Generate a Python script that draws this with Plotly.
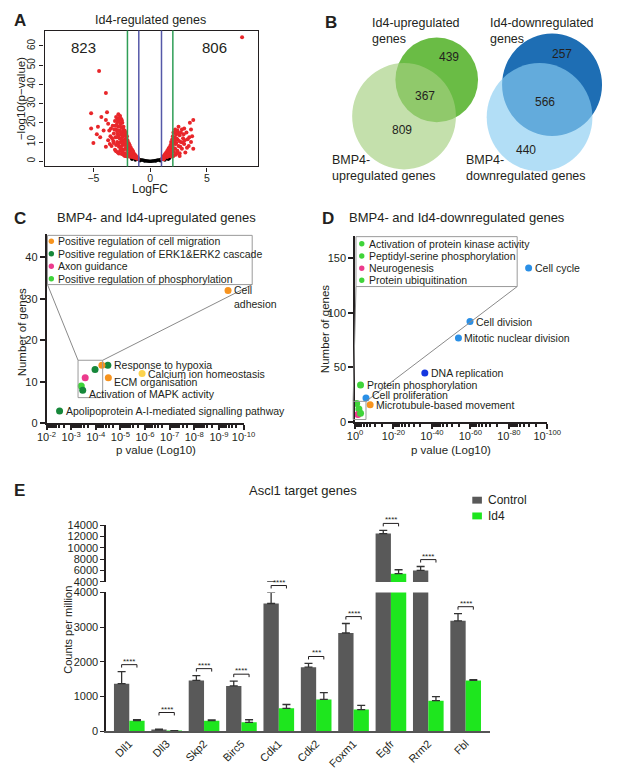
import math
import plotly.graph_objects as go

W, H = 617, 770
FONT = "Liberation Sans, Arial, sans-serif"
INK = "#231f20"

# ---------------- A: volcano plot (Id4 vs control) ----------------
a_sig = [  # (logFC, -log10 p) of significant genes
    (-1.05, 1.2), (-1.1, 2.0), (-1.2, 1.6), (-1.25, 2.8), (-1.3, 2.1), (-1.35, 3.5), (-1.4, 1.8),
    (-1.45, 4.2), (-1.5, 2.6), (-1.5, 5.0), (-1.55, 3.4), (-1.6, 6.0), (-1.6, 2.2), (-1.65, 4.5),
    (-1.7, 7.0), (-1.7, 3.0), (-1.75, 5.5), (-1.8, 8.2), (-1.8, 2.4), (-1.85, 6.5), (-1.9, 4.0),
    (-1.9, 9.5), (-1.95, 7.5), (-2.0, 11.0), (-2.0, 3.2), (-2.0, 5.8), (-2.05, 13.0), (-2.1, 9.0),
    (-2.1, 2.6), (-2.15, 14.5), (-2.15, 6.8), (-2.2, 11.5), (-2.2, 4.2), (-2.25, 16.0), (-2.25, 8.5),
    (-2.3, 13.5), (-2.3, 3.0), (-2.35, 18.0), (-2.35, 10.5), (-2.4, 6.0), (-2.4, 15.5), (-2.45, 20.0),
    (-2.45, 12.5), (-2.5, 8.0), (-2.5, 17.5), (-2.5, 3.8), (-2.55, 22.0), (-2.55, 14.0), (-2.6, 10.0),
    (-2.6, 19.5), (-2.65, 5.5), (-2.65, 23.5), (-2.7, 16.0), (-2.7, 12.0), (-2.75, 21.0), (-2.75, 7.5),
    (-2.8, 24.5), (-2.8, 18.0), (-2.85, 14.0), (-2.85, 4.5), (-2.9, 22.0), (-2.9, 10.0), (-2.95, 19.0),
    (-3.0, 16.5), (-3.0, 8.5), (-3.05, 12.5), (-3.1, 21.0), (-3.1, 6.0), (-3.2, 14.5), (-3.25, 10.5),
    (-3.3, 18.5), (-3.4, 8.0), (-3.5, 13.0), (-3.6, 16.0), (-3.7, 11.0),
    (-1.15, 1.4), (-1.3, 2.9), (-1.45, 3.1), (-1.55, 5.6), (-1.65, 3.8), (-1.75, 4.1), (-1.85, 8.9),
    (-1.95, 3.6), (-2.0, 9.8), (-2.05, 7.2), (-2.1, 12.2), (-2.15, 3.5), (-2.2, 15.2), (-2.25, 10.2),
    (-2.3, 6.1), (-2.35, 14.2), (-2.4, 17.2), (-2.45, 9.2), (-2.5, 21.3), (-2.55, 11.5), (-2.6, 15.2),
    (-2.6, 7.0), (-2.65, 18.2), (-2.7, 22.5), (-2.75, 13.5), (-2.8, 9.2), (-2.85, 20.5), (-2.9, 15.5),
    (-2.95, 12.5), (-3.0, 23.0), (-3.0, 5.2), (-3.05, 18.5), (-3.15, 16.5), (-3.2, 9.5), (-3.35, 12.0),
    (-3.45, 17.0), (-3.55, 9.0), (-2.45, 5.0), (-2.75, 4.0), (-2.2, 2.8),
    (-4.5, 47.0), (-3.9, 35.5), (-3.8, 25.5), (-5.2, 25.0), (-4.3, 23.0), (-3.9, 21.5), (-5.2, 17.0),
    (-4.6, 18.0), (-5.0, 9.5), (-4.1, 16.0), (-3.7, 19.5), (-4.4, 12.5), (-3.9, 7.5), (-4.7, 14.0),
    (1.05, 1.2), (1.1, 2.0), (1.15, 1.5), (1.2, 2.8), (1.25, 1.9), (1.3, 3.6), (1.35, 2.4), (1.4, 4.4),
    (1.45, 3.0), (1.5, 5.3), (1.5, 2.2), (1.55, 4.0), (1.6, 6.2), (1.6, 2.8), (1.65, 5.0), (1.7, 7.3),
    (1.7, 3.5), (1.75, 6.0), (1.8, 8.5), (1.8, 2.6), (1.85, 4.6), (1.85, 10.0), (1.9, 7.0), (1.9, 3.2),
    (1.95, 11.5), (1.95, 5.5), (2.0, 13.0), (2.0, 8.5), (2.05, 2.8), (2.05, 15.0), (2.1, 10.0),
    (2.1, 4.8), (2.15, 12.5), (2.2, 6.5), (2.2, 16.5), (2.25, 3.4), (2.3, 9.5), (2.3, 14.0), (2.4, 5.5),
    (2.4, 11.5), (2.5, 8.0), (2.5, 18.0), (2.6, 13.5), (2.6, 4.2), (2.7, 10.0), (2.8, 16.5), (2.8, 6.5),
    (2.9, 12.0), (3.0, 9.0), (3.0, 17.0), (3.1, 4.5), (3.2, 15.0), (3.3, 11.5), (3.4, 8.0), (3.5, 20.0),
    (3.6, 10.0), (3.7, 13.0), (3.8, 21.5), (3.8, 6.5), (3.6, 16.5),
    (1.2, 1.1), (1.35, 3.2), (1.55, 3.0), (1.65, 6.7), (1.75, 4.4), (1.9, 8.7), (1.95, 2.5), (2.05, 11.6),
    (2.1, 6.8), (2.15, 14.8), (2.25, 9.0), (2.3, 12.0), (2.35, 4.0), (2.45, 14.8), (2.55, 10.5),
    (2.65, 7.5), (2.7, 15.0), (2.85, 9.8), (2.95, 14.0), (3.05, 11.0), (3.25, 7.0), (3.45, 12.5),
    (2.4, 16.0), (2.2, 11.0), (2.6, 2.8), (8.1, 64.5),
]
a_ns = [  # non-significant genes along the bottom
    (-1.6, 1.6), (-1.5, 1.5), (-1.4, 1.4), (-1.3, 1.2), (-1.2, 1.3), (-1.1, 1.0), (-1.0, 0.9),
    (-0.9, 0.8), (-0.8, 0.7), (-0.7, 0.6), (-0.6, 0.5), (-0.5, 0.4), (-0.4, 0.3), (-0.3, 0.2),
    (-0.2, 0.15), (-0.1, 0.05), (0.0, 0.0), (0.1, 0.05), (0.2, 0.15), (0.3, 0.2), (0.4, 0.3),
    (0.5, 0.4), (0.6, 0.5), (0.7, 0.6), (0.8, 0.7), (0.9, 0.8), (1.0, 0.9), (1.1, 1.0), (1.2, 1.2),
    (1.3, 1.3), (1.4, 1.4), (1.5, 1.5), (1.6, 1.5), (1.7, 1.6), (-1.3, 0.6), (-0.9, 0.3), (0.9, 0.3),
    (1.3, 0.6), (-0.5, 0.1), (0.5, 0.1), (1.6, 1.0), (-1.6, 1.0),
]
a_n_down, a_n_up = 823, 806
a_cut_inner, a_cut_outer = 1, 2

# ---------------- B: Venn counts ----------------
up_id4_only, up_both, up_bmp4_only = 439, 367, 809
dn_id4_only, dn_both, dn_bmp4_only = 257, 566, 440

# ---------------- C: GO terms, up-regulated ----------------
c_terms = ["Cell adhesion", "Response to hypoxia", "Positive regulation of cell migration",
           "Positive regulation of ERK1&ERK2 cascade", "Axon guidance", "ECM organisation",
           "Calcium ion homeostasis", "Positive regulation of phosphorylation",
           "Activation of MAPK activity", "Apolipoprotein A-I-mediated signalling pathway"]
c_nlogp = [9.37, 4.49, 4.25, 3.97, 3.57, 4.51, 5.88, 3.41, 3.47, 2.53]
c_genes = [32, 14, 14, 13, 11, 11, 12, 9, 8, 3]
c_inset = ["Positive regulation of cell migration", "Positive regulation of ERK1&ERK2 cascade",
           "Axon guidance", "Positive regulation of phosphorylation"]

# ---------------- D: GO terms, down-regulated ----------------
d_terms = ["Cell cycle", "Cell division", "Mitotic nuclear division", "DNA replication",
           "Protein phosphorylation", "Cell proliferation", "Microtubule-based movement",
           "Activation of protein kinase activity", "Peptidyl-serine phosphorylation",
           "Neurogenesis", "Protein ubiquitination"]
d_nlogp = [90.3, 59.8, 53.8, 36.3, 2.85, 5.7, 7.85, 0.85, 2.0, 1.5, 2.85]
d_genes = [141, 92, 77, 45, 34, 22, 16, 17, 12, 7, 8]
d_inset = ["Activation of protein kinase activity", "Peptidyl-serine phosphorylation",
           "Neurogenesis", "Protein ubiquitination"]

# ---------------- E: Ascl1 targets ----------------
e_genes = ["Dll1", "Dll3", "Skp2", "Birc5", "Cdk1", "Cdk2", "Foxm1", "Egfr", "Rrm2", "Fbl"]
e_ctrl = [1370, 40, 1465, 1305, 3680, 1845, 2830, 12500, 6020, 3180]
e_ctrl_err = [350, 20, 140, 140, 320, 110, 275, 580, 690, 210]
e_id4 = [305, 10, 305, 255, 660, 915, 625, 5450, 880, 1465]
e_id4_err = [30, 5, 20, 75, 110, 200, 120, 690, 115, 20]
e_sig = ["****", "****", "****", "****", "****", "***", "****", "****", "****", "****"]

# colours
ORANGE, DKGREEN, PINK, LTGREEN, YELLOW = "#f7931e", "#16873a", "#ec3b8d", "#3fd43a", "#fcd34d"
BLUE, DKBLUE = "#2a8fe6", "#1537e0"
GREY_BAR, GREEN_BAR = "#595959", "#1ee61e"
c_colors = [ORANGE, DKGREEN, ORANGE, DKGREEN, PINK, ORANGE, YELLOW, LTGREEN, DKGREEN, DKGREEN]
d_colors = [BLUE, BLUE, BLUE, DKBLUE, LTGREEN, BLUE, ORANGE, LTGREEN, LTGREEN, PINK, LTGREEN]


def fx(p):
    return p / W


def fy(p):
    return 1 - p / H


def lin(v, rng, span):
    return span[0] + (v - rng[0]) / (rng[1] - rng[0]) * (span[1] - span[0])


def note(text, x, y, size=11, xanchor="center", yanchor="middle", angle=0, bold=False, **kw):
    fig.add_annotation(text=f"<b>{text}</b>" if bold else text, x=fx(x), y=fy(y),
                       xref="paper", yref="paper", showarrow=False, textangle=angle,
                       xanchor=xanchor, yanchor=yanchor,
                       font=dict(size=size, family=FONT, color=INK), **kw)


def line(x0, y0, x1, y1, color="#8a8a8a", width=1):
    fig.add_shape(type="line", x0=fx(x0), y0=fy(y0), x1=fx(x1), y1=fy(y1),
                  xref="paper", yref="paper", line=dict(color=color, width=width))


fig = go.Figure()

# geometry (pixels)
A_X, A_Y = (36, 258), (163, 25)
A_XR, A_YR = [-9.3, 9.5], [-2.7, 68]
C_X, C_Y = (38, 243), (424, 232)
C_XR, C_YR = [2, 10], [0, 45.5]
D_X, D_Y = (359, 559), (422.7, 234)
D_XR, D_YR = [0, 100], [0, 170]
E_X, E_LO, E_HI = (100, 499), (736.7, 595.7), (585, 527.3)
E_XR = [-0.62, 9.64]

axis_common = dict(showgrid=False, zeroline=False, showline=True, linecolor=INK,
                   ticks="outside", tickcolor=INK, tickfont=dict(size=11, family=FONT, color=INK))

# ---- A ----
fig.add_trace(go.Scatter(x=[p[0] for p in a_ns], y=[p[1] for p in a_ns], mode="markers",
                         marker=dict(color="black", size=3.5), xaxis="x", yaxis="y", showlegend=False))
fig.add_trace(go.Scatter(x=[p[0] for p in a_sig], y=[p[1] for p in a_sig], mode="markers",
                         marker=dict(color="#e8262a", size=4), xaxis="x", yaxis="y", showlegend=False))
for v, col in [(-a_cut_outer, "#2f9e57"), (-a_cut_inner, "#5558a8"),
               (a_cut_inner, "#5558a8"), (a_cut_outer, "#2f9e57")]:
    fig.add_shape(type="line", x0=v, x1=v, y0=0, y1=1, xref="x", yref="y domain",
                  line=dict(color=col, width=1.5))
fig.add_annotation(x=-5.85, y=59.3, xref="x", yref="y", text=str(a_n_down), showarrow=False,
                   font=dict(size=15, family=FONT, color=INK))
fig.add_annotation(x=5.7, y=59.3, xref="x", yref="y", text=str(a_n_up), showarrow=False,
                   font=dict(size=15, family=FONT, color=INK))

# ---- C ----
fig.add_trace(go.Scatter(x=c_nlogp, y=c_genes, mode="markers", cliponaxis=False,
                         marker=dict(color=c_colors, size=7), xaxis="x2", yaxis="y2", showlegend=False))
# ---- D ----
fig.add_trace(go.Scatter(x=d_nlogp, y=d_genes, mode="markers", cliponaxis=False,
                         marker=dict(color=d_colors, size=7), xaxis="x3", yaxis="y3", showlegend=False))

wrap = {"Cell adhesion": "Cell<br>adhesion"}
shift = {"Cell adhesion": -7, "ECM organisation": -4, "Activation of MAPK activity": -4,
         "Cell proliferation": 3}
for terms, xs, ys, inset, ax in [(c_terms, c_nlogp, c_genes, c_inset, "2"),
                                 (d_terms, d_nlogp, d_genes, d_inset, "3")]:
    for t, x, y in zip(terms, xs, ys):
        if t in inset:
            continue
        fig.add_annotation(x=x, y=y, xref="x" + ax, yref="y" + ax, text=wrap.get(t, t),
                           showarrow=False, xanchor="left", align="left", xshift=4,
                           yshift=shift.get(t, 0), font=dict(size=10.5, family=FONT, color=INK))


def callout(terms, colors, inset, box, rows, zoom, xr, yr, xspan, yspan):
    x0, y0, x1, y1 = box
    fig.add_shape(type="rect", x0=fx(x0), y0=fy(y0), x1=fx(x1), y1=fy(y1), xref="paper",
                  yref="paper", line=dict(color="#9a9a9a", width=1), fillcolor="white")
    dot_x, text_x, row0, step = rows
    k = 0
    for t, c in zip(terms, colors):
        if t not in inset:
            continue
        yy = row0 + k * step
        fig.add_shape(type="circle", x0=fx(dot_x - 2.8), x1=fx(dot_x + 2.8), y0=fy(yy - 2.8),
                      y1=fy(yy + 2.8), xref="paper", yref="paper", fillcolor=c, line_width=0)
        note(t, text_x, yy, size=10.5, xanchor="left")
        k += 1
    zx0, zx1 = lin(zoom[0], xr, xspan), lin(zoom[1], xr, xspan)
    zy0, zy1 = lin(zoom[2], yr, yspan), lin(zoom[3], yr, yspan)
    fig.add_shape(type="rect", x0=fx(zx0), x1=fx(zx1), y0=fy(zy0), y1=fy(zy1), xref="paper",
                  yref="paper", line=dict(color="#9a9a9a", width=1))
    line(x0, y1, zx0, zy1)
    line(x1, y1, zx1, zy1)


callout(c_terms, c_colors, c_inset, (39, 233, 252, 283), (43, 48, 239, 12.7),
        (3.28, 4.28, 6.2, 15.2), C_XR, C_YR, C_X, C_Y)
callout(d_terms, d_colors, d_inset, (360, 234.3, 527.7, 285), (366, 371, 241.5, 12.4),
        (-1, 5.7, 2.4, 19), D_XR, D_YR, D_X, D_Y)

# ---- E ----
for ax, ya in [("x4", "y4"), ("x5", "y5")]:
    fig.add_trace(go.Bar(x=e_genes, y=e_ctrl, name="Control", marker=dict(color=GREY_BAR, line_width=0),
                         error_y=dict(type="data", symmetric=False, array=e_ctrl_err,
                                      arrayminus=[0 for _ in e_ctrl_err], color="#333333",
                                      thickness=1.3, width=4),
                         xaxis=ax, yaxis=ya, showlegend=False))
    fig.add_trace(go.Bar(x=e_genes, y=e_id4, name="Id4", marker=dict(color=GREEN_BAR, line_width=0),
                         error_y=dict(type="data", symmetric=False, array=e_id4_err,
                                      arrayminus=[0 for _ in e_id4_err], color="#333333",
                                      thickness=1.3, width=4),
                         xaxis=ax, yaxis=ya, showlegend=False))


def e_py(v):
    if v <= 4000:
        return lin(v, [0, 4000], E_LO)
    return lin(v, [4000, 14000], E_HI)


for i, s in enumerate(e_sig):
    top = max(e_ctrl[i] + e_ctrl_err[i], e_id4[i] + e_id4_err[i])
    yb = min(e_py(top) - 7, E_LO[0] - 19)
    xl, xr = lin(i - 0.205, E_XR, E_X), lin(i + 0.205, E_XR, E_X)
    fig.add_shape(type="path", xref="paper", yref="paper", line=dict(color=INK, width=1),
                  path=f"M {fx(xl)},{fy(yb + 3)} L {fx(xl)},{fy(yb)} L {fx(xr)},{fy(yb)} L {fx(xr)},{fy(yb + 3)}")
    note(s, (xl + xr) / 2, yb, size=8, yanchor="bottom", yshift=-3)

# legend for E
for k, (name, col) in enumerate([("Control", GREY_BAR), ("Id4", GREEN_BAR)]):
    yy = 502 + 16 * k
    fig.add_shape(type="rect", x0=fx(481), x1=fx(491), y0=fy(yy + 3.5), y1=fy(yy - 3.5),
                  xref="paper", yref="paper", fillcolor=col, line_width=0)
    note(name, 495, yy, size=12, xanchor="left")

# ---- text ----
note("A", 10, 15, size=17, bold=True)
note("B", 334, 17, size=17, bold=True)
note("C", 10, 216, size=17, bold=True)
note("D", 331, 216, size=17, bold=True)
note("E", 10, 492, size=17, bold=True)
note("Id4-regulated genes", 146, 14, size=12.5)
note("−log10(p−value)", 11, 94, size=11.5, angle=-90)
note("LogFC", 146, 186, size=12)
note("Id4-upregulated<br>genes", 375, 25, size=12.5, xanchor="left", align="left")
note("Id4-downregulated<br>genes", 497, 25, size=12.5, xanchor="left", align="left")
note("BMP4-<br>upregulated genes", 333, 165, size=12.5, xanchor="left", align="left")
note("BMP4-<br>downregulated genes", 472, 165, size=12.5, xanchor="left", align="left")
note("BMP4- and Id4-upregulated genes", 152, 215, size=13)
note("BMP4- and Id4-downregulated genes", 465, 215, size=13)
note("Number of genes", 12, 332, size=11.5, angle=-90)
note("Number of genes", 328, 328, size=11.5, angle=-90)
note("p value (Log10)", 152, 451, size=11.5)
note("p value (Log10)", 459, 451, size=11.5)
note("Ascl1 target genes", 305, 492, size=13)
note("Counts per million", 60, 634, size=11, angle=-90)

# ---- Venn circles (B) ----
for (cx, cy, r, col, op) in [(444, 75, 43, "#6abc45", 1), (410, 112, 54, "#a4cf7f", 0.65),
                             (564, 80, 52, "#1e6eb4", 1), (551, 113, 55, "#88cdf1", 0.65)]:
    fig.add_shape(type="circle", x0=fx(cx - r), x1=fx(cx + r), y0=fy(cy + r), y1=fy(cy - r),
                  xref="paper", yref="paper", fillcolor=col, opacity=op, line_width=0, layer="below")
for val, x, y in [(up_id4_only, 457, 52), (up_both, 432, 91), (up_bmp4_only, 408, 126),
                  (dn_id4_only, 574, 49), (dn_both, 557, 98), (dn_bmp4_only, 537, 146)]:
    note(str(val), x, y, size=12)

c_minor = [n + 1 - math.log10(k) for n in range(2, 10) for k in range(2, 10)]
d_minor = [n + 20 * (1 - math.log10(k)) for n in range(0, 100, 20) for k in range(2, 10)]

fig.update_layout(
    width=W, height=H, margin=dict(l=0, r=0, t=0, b=0),
    paper_bgcolor="white", plot_bgcolor="rgba(0,0,0,0)",
    font=dict(family=FONT, color=INK), showlegend=False,
    barmode="group", bargap=0.18, bargroupgap=0,
    xaxis=dict(axis_common, domain=[fx(A_X[0]), fx(A_X[1])], range=A_XR, tickvals=[-5, 0, 5],
               mirror=True, linewidth=1.2, ticklen=4, anchor="y", tickfont=dict(size=10.5),
               ticklabelstandoff=-2),
    yaxis=dict(axis_common, domain=[fy(A_Y[0]), fy(A_Y[1])], range=A_YR, tickvals=list(range(0, 70, 10)),
               mirror=True, linewidth=1.2, ticklen=4, tickangle=-90, anchor="x", tickfont=dict(size=10)),
    xaxis2=dict(axis_common, domain=[fx(C_X[0]), fx(C_X[1])], range=C_XR, tickvals=list(range(2, 11)),
                ticktext=[f"10<sup>-{n}</sup>" for n in range(2, 11)], linewidth=1.5, ticklen=5,
                tickwidth=1.5, anchor="y2", ticklabelstandoff=-2,
                minor=dict(tickvals=c_minor, ticks="outside", ticklen=3, tickcolor=INK)),
    yaxis2=dict(axis_common, domain=[fy(C_Y[0]), fy(C_Y[1])], range=C_YR, tickvals=[0, 10, 20, 30, 40],
                linewidth=1.5, ticklen=5, tickwidth=1.5, anchor="x2"),
    xaxis3=dict(axis_common, domain=[fx(D_X[0]), fx(D_X[1])], range=D_XR, tickvals=list(range(0, 101, 20)),
                ticktext=["10<sup>0</sup>"] + [f"10<sup>-{n}</sup>" for n in range(20, 101, 20)],
                linewidth=1.5, ticklen=5, tickwidth=1.5, anchor="y3", ticklabelstandoff=-2,
                minor=dict(tickvals=d_minor, ticks="outside", ticklen=3, tickcolor=INK)),
    yaxis3=dict(axis_common, domain=[fy(D_Y[0]), fy(D_Y[1])], range=D_YR, tickvals=[0, 50, 100, 150],
                linewidth=1.5, ticklen=5, tickwidth=1.5, anchor="x3"),
    xaxis4=dict(axis_common, domain=[fx(E_X[0]), fx(E_X[1])], range=E_XR, ticks="", tickangle=-45,
                linewidth=1.5, anchor="y4", linecolor="#555555"),
    yaxis4=dict(axis_common, domain=[fy(E_LO[0]), fy(E_LO[1])], range=[0, 4000],
                tickvals=[0, 1000, 2000, 3000, 4000], tickformat="d", linewidth=1.5, ticklen=4, anchor="x4"),
    xaxis5=dict(domain=[fx(E_X[0]), fx(E_X[1])], range=E_XR, matches="x4", visible=False, anchor="y5"),
    yaxis5=dict(axis_common, domain=[fy(E_HI[0]), fy(E_HI[1])], range=[4000, 14000],
                tickvals=list(range(4000, 14001, 2000)), tickformat="d", linewidth=1.5, ticklen=4, anchor="x5"),
)

fig.write_html("out.html", config={"displayModeBar": False},
               post_script="document.body.style.margin='0';")
